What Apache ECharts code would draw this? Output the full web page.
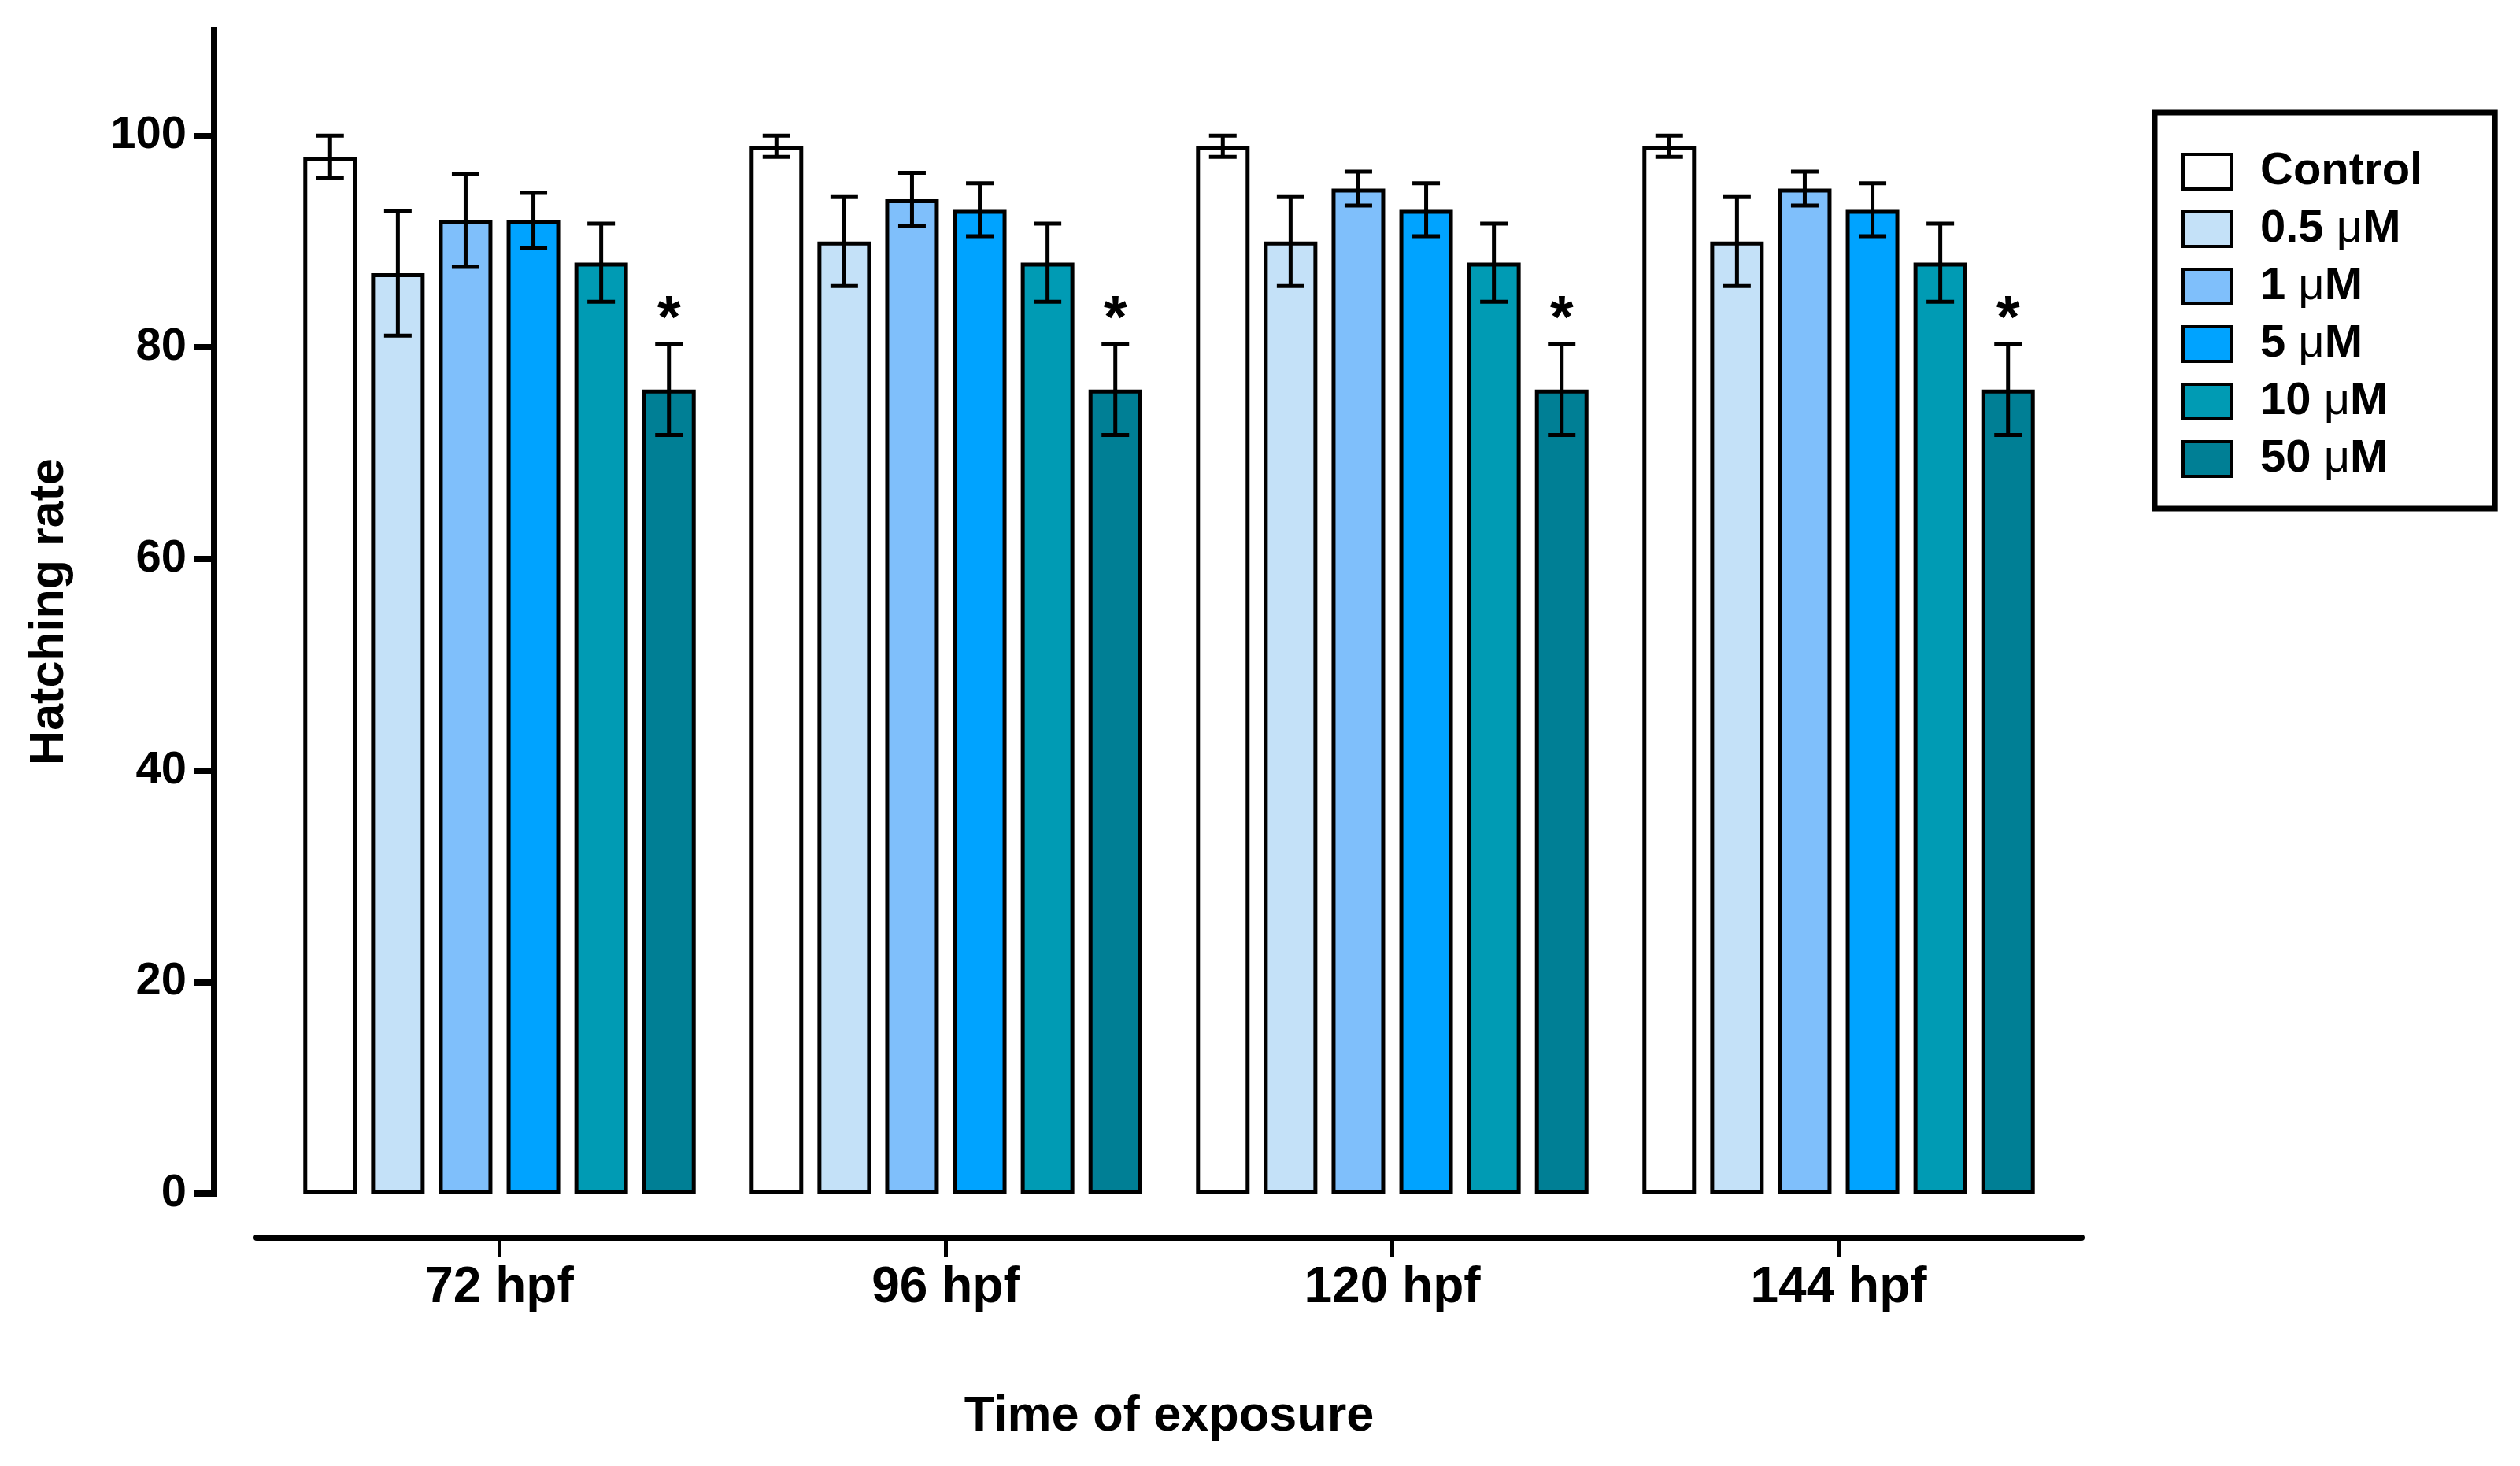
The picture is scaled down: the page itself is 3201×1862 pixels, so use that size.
<!DOCTYPE html>
<html>
<head>
<meta charset="utf-8">
<script src="https://cdn.jsdelivr.net/npm/echarts@6/dist/echarts.min.js"></script>
<style>
html,body{margin:0;padding:0;background:#fff;}
#chart{width:3201px;height:1862px;}
</style>
</head>
<body>
<div id="chart"></div>
<script>
// ---- data ----
const categories = ['72 hpf', '96 hpf', '120 hpf', '144 hpf'];
const seriesNames = ['Control', '0.5 μM', '1 μM', '5 μM', '10 μM', '50 μM'];
const colors = ['#FFFFFF', '#C4E1F8', '#7FBFFB', '#00A3FF', '#009BB4', '#007F95'];
const meanControl = [98, 99, 99, 99];
const mean05 = [87, 90, 90, 90];
const mean1 = [92, 94, 95, 95];
const mean5 = [92, 93, 93, 93];
const mean10 = [88, 88, 88, 88];
const mean50 = [76, 76, 76, 76];
const errControl = [2, 1, 1, 1];
const err05 = [5.9, 4.2, 4.2, 4.2];
const err1 = [4.4, 2.5, 1.6, 1.6];
const err5 = [2.6, 2.5, 2.5, 2.5];
const err10 = [3.7, 3.7, 3.7, 3.7];
const err50 = [4.3, 4.3, 4.3, 4.3];
const sig50 = ['*', '*', '*', '*'];
const yTicks = [0, 20, 40, 60, 80, 100];

const means = [meanControl, mean05, mean1, mean5, mean10, mean50];
const errs = [errControl, err05, err1, err5, err10, err50];
const sigs = [null, null, null, null, null, sig50];

// ---- layout constants ----
const FONT = 'Liberation Sans';
const BAR_W = 68;
const BAR_GAP = 0.266;
const N = seriesNames.length;
const totalW = N * BAR_W + (N - 1) * BAR_W * BAR_GAP;
function offsetFor(i) { return -totalW / 2 + BAR_W / 2 + i * BAR_W * (1 + BAR_GAP); }

const series = [];
for (let i = 0; i < N; i++) {
  series.push({
    name: seriesNames[i],
    type: 'bar',
    data: means[i],
    barWidth: BAR_W,
    barGap: (BAR_GAP * 100) + '%',
    itemStyle: { color: colors[i], borderColor: '#000', borderWidth: 5 },
    z: 2
  });
}
for (let i = 0; i < N; i++) {
  const data = means[i].map((m, k) => [k, m - errs[i][k], m + errs[i][k], sigs[i] ? sigs[i][k] : '']);
  const off = offsetFor(i);
  series.push({
    name: 'err' + i,
    type: 'custom',
    data: data,
    encode: { x: 0, y: [1, 2] },
    z: 5,
    silent: true,
    renderItem: function (params, api) {
      const k = api.value(0);
      const lo = api.coord([k, api.value(1)]);
      const hi = api.coord([k, api.value(2)]);
      const x = lo[0] + off;
      const capHalf = 17.5;
      const st = { stroke: '#000', lineWidth: 5 };
      const children = [
        { type: 'line', shape: { x1: x, y1: lo[1], x2: x, y2: hi[1] }, style: st },
        { type: 'line', shape: { x1: x - capHalf, y1: lo[1], x2: x + capHalf, y2: lo[1] }, style: st },
        { type: 'line', shape: { x1: x - capHalf, y1: hi[1], x2: x + capHalf, y2: hi[1] }, style: st }
      ];
      const s = data[params.dataIndex][3];
      if (s) {
        children.push({
          type: 'text',
          style: { text: s, x: x, y: hi[1] - 30, textAlign: 'center', textVerticalAlign: 'middle',
                   font: 'bold 76px ' + FONT, fill: '#000' }
        });
      }
      return { type: 'group', children: children };
    }
  });
}

const chart = echarts.init(document.getElementById('chart'));
chart.setOption({
  backgroundColor: '#fff',
  animation: false,
  textStyle: { fontFamily: FONT },
  legend: {
    data: seriesNames,
    orient: 'vertical',
    left: 2737,
    top: 143,
    padding: [46, 92, 34, 34],
    itemWidth: 62,
    itemHeight: 44,
    itemGap: 15,
    borderColor: '#000',
    borderWidth: 7,
    icon: 'rect',
    itemStyle: { borderColor: '#000', borderWidth: 4 },
    formatter: function (name) { return name.replace('μ', '{u|μ}'); },
    textStyle: {
      fontFamily: FONT, fontWeight: 'bold', fontSize: 58, color: '#000',
      padding: [0, 0, 0, 31],
      rich: { u: { fontFamily: FONT, fontWeight: 'normal', fontSize: 58, color: '#000' } }
    }
  },
  grid: [
    { left: 351, right: 582, top: 38, bottom: 346 },
    { left: 326, right: 557, top: 38, bottom: 346 }
  ],
  xAxis: [
    {
      type: 'category',
      gridIndex: 0,
      data: categories,
      offset: 56,
      axisLine: { show: false, onZero: false },
      axisTick: { show: true, alignWithLabel: true, length: 24, lineStyle: { color: '#000', width: 5 } },
      axisLabel: { margin: 32, fontFamily: FONT, fontWeight: 'bold', fontSize: 64, color: '#000' },
      name: 'Time of exposure',
      nameLocation: 'middle',
      nameGap: 196,
      nameTextStyle: { fontFamily: FONT, fontWeight: 'bold', fontSize: 63, color: '#000' }
    },
    {
      type: 'value',
      gridIndex: 1,
      offset: 56,
      axisLine: { show: true, onZero: false, lineStyle: { color: '#000', width: 8 } },
      axisTick: { show: false },
      axisLabel: { show: false },
      splitLine: { show: false }
    }
  ],
  yAxis: [
    {
      type: 'value',
      gridIndex: 0,
      min: 0,
      max: 110,
      interval: 20,
      offset: 79,
      axisLine: { show: true, onZero: false, lineStyle: { color: '#000', width: 8, cap: 'square' } },
      axisTick: { show: true, customValues: yTicks, length: 25, lineStyle: { color: '#000', width: 8 } },
      axisLabel: { customValues: yTicks, margin: 35, fontFamily: FONT, fontWeight: 'bold', fontSize: 58, color: '#000' },
      splitLine: { show: false },
      name: 'Hatching rate',
      nameLocation: 'middle',
      nameGap: 178,
      nameTextStyle: { fontFamily: FONT, fontWeight: 'bold', fontSize: 61, color: '#000' }
    },
    { type: 'value', gridIndex: 1, show: false }
  ],
  series: series
});
</script>
</body>
</html>
